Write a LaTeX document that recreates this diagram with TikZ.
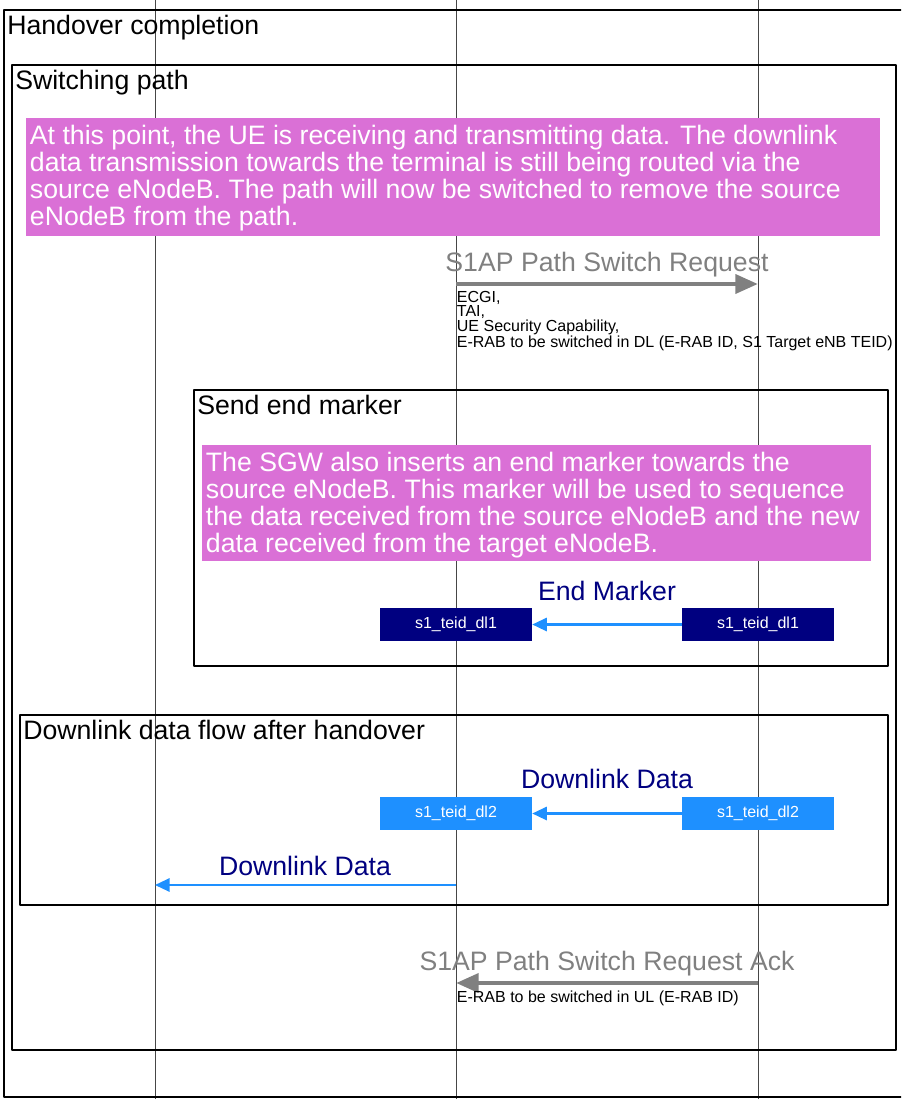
\documentclass[tikz,border=0pt]{standalone}
\usepackage{fontspec}
\setmainfont{Liberation Sans}
\usetikzlibrary{arrows.meta,positioning}
\definecolor{orchidbg}{RGB}{218,112,214}
\definecolor{navybox}{RGB}{0,0,128}
\definecolor{dodger}{RGB}{30,144,255}
\definecolor{msggray}{RGB}{128,128,128}
\definecolor{lifegray}{RGB}{70,70,70}
\tikzset{
	lifeline/.style={draw=lifegray, line width=0.7pt},
	frame/.style={draw=black, line width=1.7pt},
	frametitle/.style={anchor=north west, inner sep=1.5pt, font=\fontsize{20}{22}\selectfont},
	notetext/.style={anchor=north west, inner sep=2pt, align=left, text=white, font=\fontsize{20}{20.25}\selectfont},
	msgtitle/.style={font=\fontsize{20}{22}\selectfont},
	params/.style={anchor=north west, inner sep=0.5pt, align=left, font=\fontsize{12}{8.6}\selectfont},
	teid/.style={minimum width=114pt, minimum height=24.75pt, inner sep=0pt, text=white, font=\fontsize{12}{14}\selectfont},
	sigarrow/.style={draw=msggray, line width=3.5pt, -{Triangle[length=17pt,width=14pt]}},
	dataarrow/.style={draw=dodger, line width=1.6pt, -{Triangle[length=11pt,width=10pt]}}
}
\begin{document}
\begin{tikzpicture}[x=0.75pt, y=-0.75pt, line join=round]
	\useasboundingbox (0,0) rectangle (901,1099);
	\clip (0,0) rectangle (901,1099);
	% lifelines
	\foreach \name/\xpos in {ue/155, src/456, tgt/758}{
		\coordinate (\name top) at (\xpos,0);
		\coordinate (\name bot) at (\xpos,1099);
		\draw[lifeline] (\name top) -- (\name bot);
	}
	% frames
	\draw[frame] (4,10) rectangle (910,1097);
	\node[frametitle] (hoc title) at (5,13) {Handover completion};
	\draw[frame] (12,65) rectangle (896,1050);
	\node[frametitle] (path title) at (13,68) {Switching path};
	\fill[orchidbg] (26,118) rectangle (880,236);
	\node[notetext] (path note) at (27,122) {At this point, the UE is receiving and transmitting data. The downlink\\
		data transmission towards the terminal is still being routed via the\\
		source eNodeB. The path will now be switched to remove the source\\
		eNodeB from the path.};
	% path switch request
	\coordinate (psr from) at (456,284);
	\coordinate (psr to) at (758,284);
	\draw[sigarrow] (psr from) -- (psr to);
	\node[msgtitle, text=msggray] (psr label) at (607,265) {S1AP Path Switch Request};
	\node[params] (psr params) at (456,290) {ECGI,\\TAI,\\UE Security Capability,\\E-RAB to be switched in DL (E-RAB ID, S1 Target eNB TEID)};
	% end marker
	\draw[frame] (194,390) rectangle (888,666);
	\node[frametitle] (em title) at (195,393) {Send end marker};
	\fill[orchidbg] (202,445) rectangle (871,561);
	\node[notetext] (em note) at (203,449) {The SGW also inserts an end marker towards the\\
		source eNodeB. This marker will be used to sequence\\
		the data received from the source eNodeB and the new\\
		data received from the target eNodeB.};
	\node[teid, fill=navybox] (em src) at (456,624.5) {s1\_teid\_dl1};
	\node[teid, fill=navybox] (em tgt) at (758,624.5) {s1\_teid\_dl1};
	\draw[dataarrow] (em tgt) -- (em src);
	\node[msgtitle, text=navybox] (em label) at (607,591) {End Marker};
	% downlink data
	\draw[frame] (20,715) rectangle (888,905);
	\node[frametitle] (dl title) at (21,718) {Downlink data flow after handover};
	\node[teid, fill=dodger] (dl src) at (456,813.5) {s1\_teid\_dl2};
	\node[teid, fill=dodger] (dl tgt) at (758,813.5) {s1\_teid\_dl2};
	\draw[dataarrow] (dl tgt) -- (dl src);
	\node[msgtitle, text=navybox] (dl label) at (607,779) {Downlink Data};
	\coordinate (ue dl) at (155,885);
	\coordinate (src dl) at (456,885);
	\draw[dataarrow] (src dl) -- (ue dl);
	\node[msgtitle, text=navybox] (ue label) at (305,866) {Downlink Data};
	% path switch request ack
	\coordinate (ack from) at (758,983);
	\coordinate (ack to) at (456,983);
	\draw[sigarrow] (ack from) -- (ack to);
	\node[msgtitle, text=msggray] (ack label) at (607,964) {S1AP Path Switch Request Ack};
	\node[params] (ack params) at (456,990) {E-RAB to be switched in UL (E-RAB ID)};
\end{tikzpicture}
\end{document}
